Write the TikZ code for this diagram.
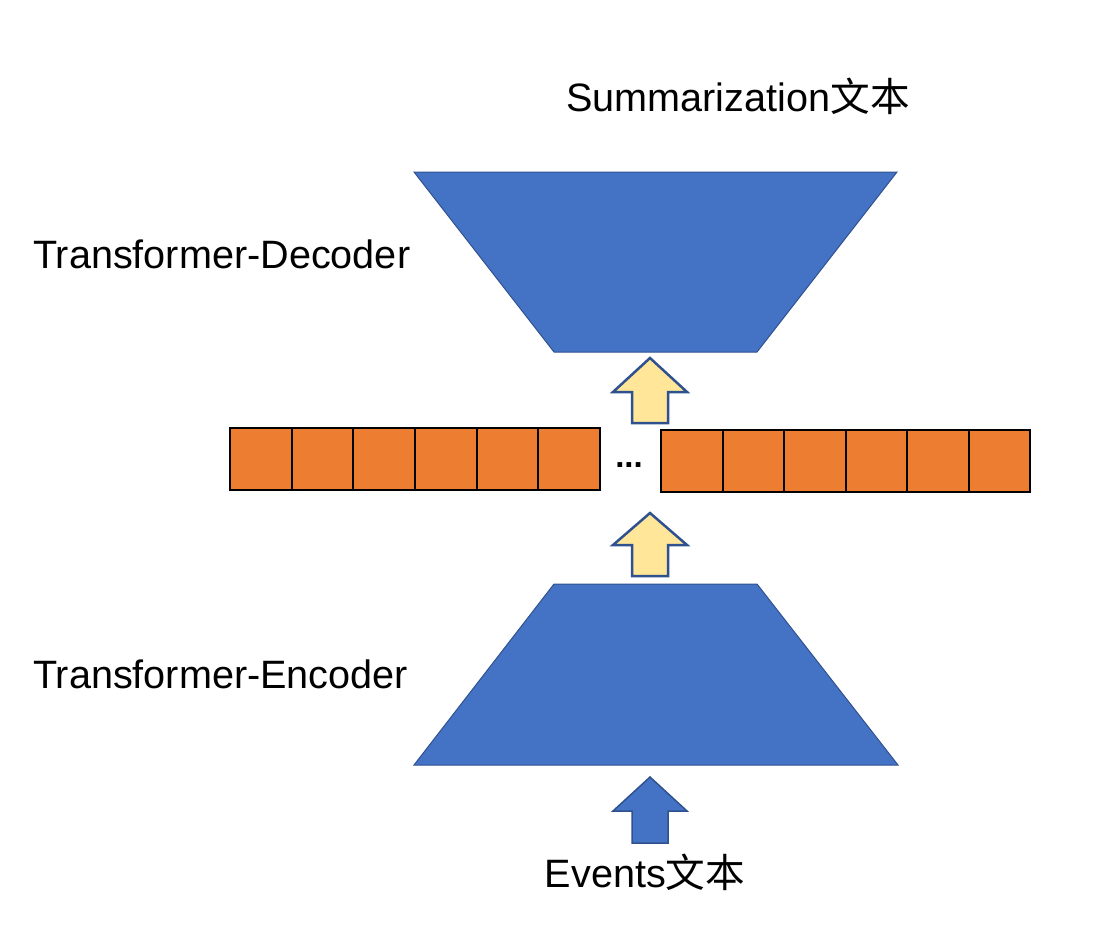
\documentclass[tikz,border=0pt]{standalone}
\usepackage{fontspec}
\setmainfont{Liberation Sans}
\newfontfamily\cjk{Noto Sans CJK SC}
\usepackage{xcolor}
\usetikzlibrary{calc,positioning}

\definecolor{boxblue}{HTML}{4472C4}
\definecolor{lineblue}{HTML}{2F528F}
\definecolor{cellorange}{HTML}{ED7D31}
\definecolor{arrowyellow}{HTML}{FFE699}

\tikzset{
    block/.style={fill=boxblue, draw=lineblue, line width=1pt},
    cell/.style={fill=cellorange, draw=black, line width=2pt},
    label/.style={font=\fontsize{39.6}{44}\selectfont, inner sep=0pt},
    yellowarrow/.style={fill=arrowyellow, draw=lineblue, line width=2.5pt, line join=miter},
    bluearrow/.style={fill=boxblue, draw=lineblue, line width=1.5pt, line join=miter},
}

% block arrow: tip x, tip y, head base y, bottom y
\newcommand{\blockarrow}[5]{%
    \draw[#1] (#2,#3) -- (#2+37,#4) -- (#2+18,#4) -- (#2+18,#5)
        -- (#2-18,#5) -- (#2-18,#4) -- (#2-37,#4) -- cycle;
}

\begin{document}
\begin{tikzpicture}[x=1pt,y=-1pt]
\useasboundingbox (0,0) rectangle (1114,930);

% decoder and encoder
\draw[block] (414,172) -- (897,172) -- (757,352) -- (554,352) -- cycle;
\draw[block] (554,584) -- (757,584) -- (898,765) -- (414,765) -- cycle;

% the two rows of cells
\foreach \i in {0,...,5} {
    \draw[cell] (230+61.67*\i,428) rectangle ++(61.67,62);
    \draw[cell] (661+61.5*\i,430) rectangle ++(61.5,62);
}
\node[label, font=\fontsize{33}{33}\selectfont\bfseries] (dots) at (629,465) {...};

% arrows between the parts
\blockarrow{yellowarrow}{650}{358}{392}{423}
\blockarrow{yellowarrow}{650}{513}{545}{576}
\blockarrow{bluearrow}{650}{777}{811}{843}

% texts
\node[label, anchor=base] (summary) at (738,111) {Summarization{\cjk 文本}};
\node[label, anchor=base west] (decoder) at (33,268) {Transformer-Decoder};
\node[label, anchor=base west] (encoder) at (33,688) {Transformer-Encoder};
\node[label, anchor=base] (events) at (645,887) {Events{\cjk 文本}};
\end{tikzpicture}
\end{document}
